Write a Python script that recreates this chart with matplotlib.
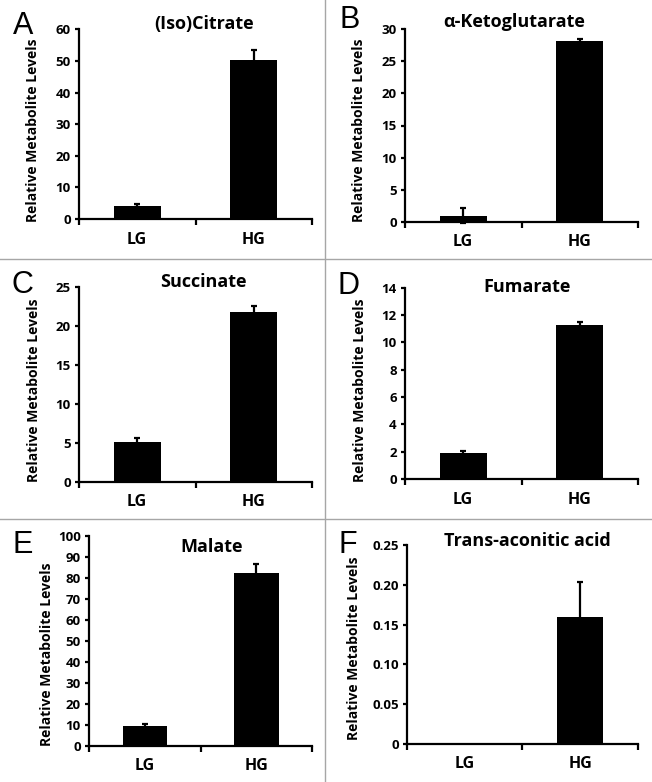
import matplotlib
matplotlib.use("Agg")
import matplotlib.pyplot as plt
from matplotlib.lines import Line2D

plt.rcParams['font.family'] = ['Open Sans', 'DejaVu Sans']
plt.rcParams['font.weight'] = 'bold'

groups = ['LG', 'HG']

citrate = [4.2, 50.3]
citrate_err = [0.5, 3.0]
akg = [0.95, 28.2]
akg_err = [1.15, 0.3]
succinate = [5.13, 21.7]
succinate_err = [0.42, 0.85]
fumarate = [1.88, 11.24]
fumarate_err = [0.17, 0.27]
malate = [9.5, 82.1]
malate_err = [0.8, 4.4]
trans_aconitic = [0.0, 0.159]
trans_aconitic_err = [float('nan'), 0.044]

titles = ['(Iso)Citrate', 'α-Ketoglutarate', 'Succinate', 'Fumarate', 'Malate', 'Trans-aconitic acid']
letters = ['A', 'B', 'C', 'D', 'E', 'F']
values = [citrate, akg, succinate, fumarate, malate, trans_aconitic]
errors = [citrate_err, akg_err, succinate_err, fumarate_err, malate_err, trans_aconitic_err]
yticks = [
    [0, 10, 20, 30, 40, 50, 60],
    [0, 5, 10, 15, 20, 25, 30],
    [0, 5, 10, 15, 20, 25],
    [0, 2, 4, 6, 8, 10, 12, 14],
    [0, 10, 20, 30, 40, 50, 60, 70, 80, 90, 100],
    [0, 0.05, 0.10, 0.15, 0.20, 0.25],
]
ytick_labels = [None, None, None, None, None, ['0', '0.05', '0.10', '0.15', '0.20', '0.25']]

W, H = 652, 782
# axes boxes in pixels: left, top, right, bottom
boxes = [
    (79, 29.3, 312, 219),
    (405, 29.3, 638, 221.7),
    (79, 286.7, 312, 481.7),
    (405, 287.7, 638, 479),
    (89.3, 535.7, 312, 746),
    (407, 545, 638, 744),
]
title_pos = [(0.536, 1.0), (0.47, 1.01), (0.532, 1.0), (0.526, 0.979), (0.549, 0.921), (0.522, 0.995)]
ylabel_x = [40, 366, 41, 367, 54.3, 361]
ylabel_y = [130, 130, 390, 390, 654, 648.5]
letter_pos = [(12.7, 34.3), (339, 27.5), (11.7, 293), (337.7, 294), (12.7, 553.3), (338.7, 553)]

fig = plt.figure(figsize=(W / 100, H / 100), dpi=100)

for i in range(6):
    l, t, r, b = boxes[i]
    ax = fig.add_axes([l / W, 1 - b / H, (r - l) / W, (b - t) / H])
    x = [0.5, 1.5]
    ax.bar(x, values[i], width=0.4, color='black',
           yerr=errors[i], capsize=2.2,
           error_kw=dict(elinewidth=1.6, capthick=1.6, ecolor='black', clip_on=False))
    ax.set_xlim(0, 2)
    ax.set_ylim(yticks[i][0], yticks[i][-1])
    ax.set_yticks(yticks[i])
    if ytick_labels[i] is not None:
        ax.set_yticklabels(ytick_labels[i])
    ax.set_xticks(x)
    ax.set_xticklabels(groups, fontsize=11.5, fontweight='bold')
    ax.set_xticks([0, 1, 2], minor=True)
    ax.tick_params(axis='x', which='major', length=0, pad=9)
    ax.tick_params(axis='x', which='minor', length=4.5, width=1.6, direction='out')
    ax.tick_params(axis='y', length=3, width=1.6, direction='out', pad=3, labelsize=9.5)
    for lab in ax.get_yticklabels():
        lab.set_fontweight('bold')
    for s in ['top', 'right']:
        ax.spines[s].set_visible(False)
    for s in ['left', 'bottom']:
        ax.spines[s].set_linewidth(1.6)
    ax.set_ylabel('Relative Metabolite Levels', fontsize=10, fontweight='bold')
    ax.yaxis.set_label_coords((ylabel_x[i] - l) / (r - l), (b - ylabel_y[i]) / (b - t))
    ax.text(title_pos[i][0], title_pos[i][1], titles[i], transform=ax.transAxes,
            ha='center', va='baseline', fontsize=13, fontweight='bold')
    fig.text(letter_pos[i][0] / W, 1 - letter_pos[i][1] / H, letters[i],
             family=['Liberation Sans', 'DejaVu Sans'], fontweight='normal',
             fontsize=22, ha='left', va='baseline')

# grey separators between panels
fig.add_artist(Line2D([325 / W, 325 / W], [0, 1], color='#a6a6a6', lw=1.0))
fig.add_artist(Line2D([0, 1], [1 - 258.5 / H, 1 - 258.5 / H], color='#a6a6a6', lw=1.0))
fig.add_artist(Line2D([0, 1], [1 - 519 / H, 1 - 519 / H], color='#a6a6a6', lw=1.0))

fig.savefig('out.png', dpi=100)
